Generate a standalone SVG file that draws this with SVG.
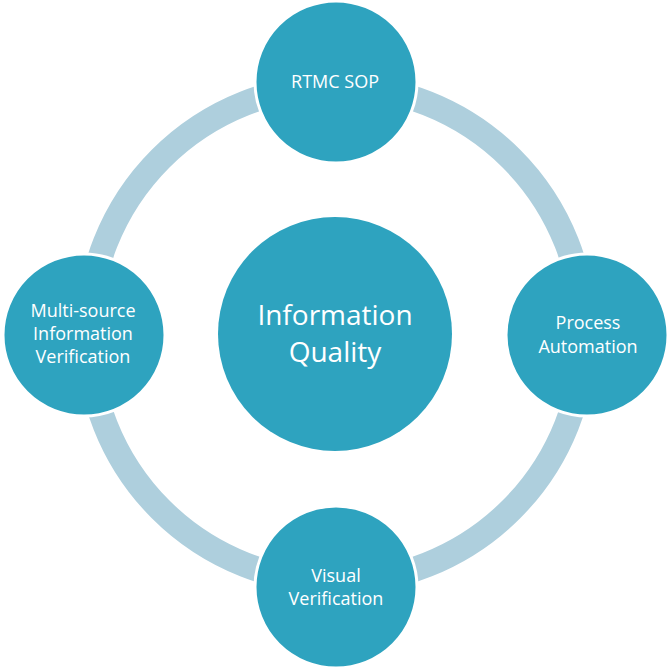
<svg xmlns="http://www.w3.org/2000/svg" width="668" height="670" viewBox="0 0 668 670">
  <style>
    .ring { fill: none; stroke: #aecfdd; stroke-width: 25; }
    .node { fill: #2ea3bf; stroke: #ffffff; stroke-width: 3; }
    .hub { fill: #2ea3bf; }
    .lbl { font-family: "Open Sans", "Liberation Sans", sans-serif; font-size: 18px; fill: #ffffff; text-anchor: middle; }
    .big { font-family: "Open Sans", "Liberation Sans", sans-serif; font-size: 28px; fill: #ffffff; text-anchor: middle; }
  </style>
  <rect width="668" height="670" fill="#ffffff"/>

  <!-- cycle ring linking the outer nodes -->
  <g id="connectors">
    <circle class="ring" cx="336" cy="334" r="248"/>
  </g>

  <g id="hub">
    <circle class="hub" cx="335" cy="334" r="117"/>
    <text class="big" x="335" y="325">Information</text>
    <text class="big" x="335" y="362">Quality</text>
  </g>

  <g id="node-top">
    <circle class="node" cx="336" cy="82" r="81"/>
    <text class="lbl" x="335" y="88">RTMC SOP</text>
  </g>

  <g id="node-right">
    <circle class="node" cx="587" cy="335" r="81"/>
    <text class="lbl" x="588" y="329">Process</text>
    <text class="lbl" x="588" y="353">Automation</text>
  </g>

  <g id="node-bottom">
    <circle class="node" cx="336" cy="587" r="81"/>
    <text class="lbl" x="336" y="582">Visual</text>
    <text class="lbl" x="336" y="605">Verification</text>
  </g>

  <g id="node-left">
    <circle class="node" cx="84" cy="335" r="81"/>
    <text class="lbl" x="83" y="317">Multi-source</text>
    <text class="lbl" x="83" y="340">Information</text>
    <text class="lbl" x="83" y="363">Verification</text>
  </g>
</svg>
